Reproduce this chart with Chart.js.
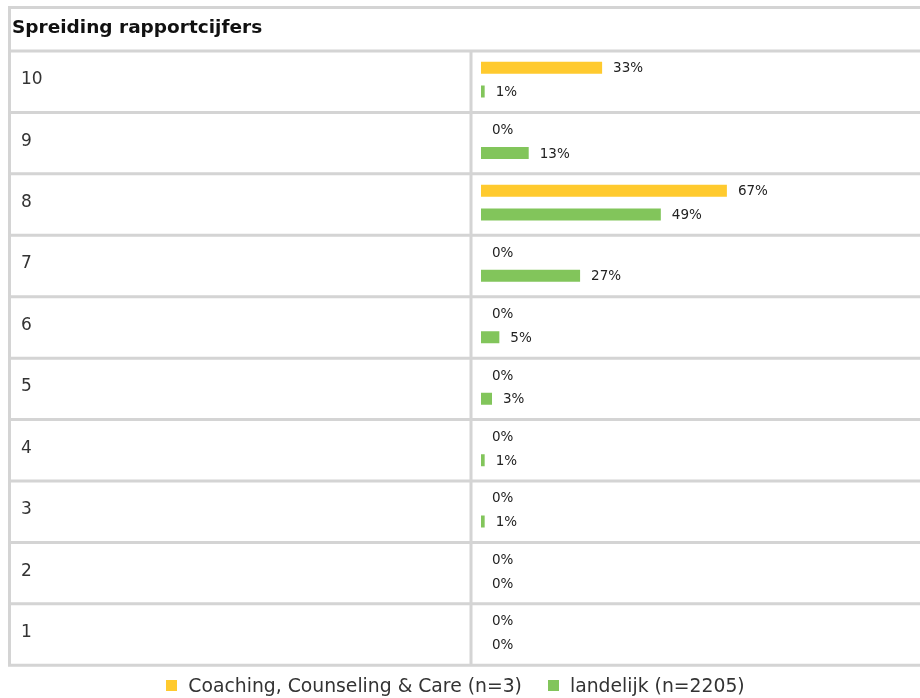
<!DOCTYPE html>
<html>
<head>
<meta charset="utf-8">
<script src="https://cdn.jsdelivr.net/npm/chart.js@4"></script>
<style>
  html, body { margin: 0; padding: 0; background: #fff; }
  body { width: 920px; height: 698px; position: relative; overflow: hidden; font-family: 'DejaVu Sans', Verdana, sans-serif; }
  #cijferChart { position: absolute; left: 0; top: 0; }
  #kop { position: absolute; left: 12px; top: 16px; font-weight: bold; font-size: 18.5px; color: #111; }
  #legend { position: absolute; left: 0; top: 675px; width: 911px; text-align: center; font-size: 18.8px; color: #333; white-space: nowrap; }
  #legend .item { display: inline-block; margin: 0 13px; }
  #legend .box { display: inline-block; width: 11px; height: 11px; margin-right: 11px; vertical-align: 1px; }
</style>
</head>
<body>
<canvas id="cijferChart" width="920" height="698"></canvas>
<div id="kop">Spreiding rapportcijfers</div>
<div id="legend"></div>

<script>
const cijfers = ['10', '9', '8', '7', '6', '5', '4', '3', '2', '1'];
const coaching = [33, 0, 67, 0, 0, 0, 0, 0, 0, 0];
const landelijk = [1, 13, 49, 27, 5, 3, 1, 1, 0, 0];
const seriesNames = ['Coaching, Counseling & Care (n=3)', 'landelijk (n=2205)'];
const seriesColors = ['#ffca2e', '#82c55b'];

const LINE_COLOR = '#d4d4d4';
const ROW_SHIFT = 2;

// table borders drawn from the category scale
const tableLines = {
    id: 'tableLines',
    beforeDatasetsDraw(chart) {
        const ctx = chart.ctx;
        const y = chart.scales.y;
        const half = (y.getPixelForValue(1) - y.getPixelForValue(0)) / 2;
        const top = y.getPixelForValue(0) - half + ROW_SHIFT;
        const bottom = y.getPixelForValue(cijfers.length - 1) + half + ROW_SHIFT;
        ctx.save();
        ctx.strokeStyle = LINE_COLOR;
        ctx.lineWidth = 3;
        ctx.beginPath();
        ctx.moveTo(8, 7.5);
        ctx.lineTo(chart.width, 7.5);
        for (let i = 0; i <= cijfers.length; i++) {
            const yy = y.getPixelForValue(i) - half + ROW_SHIFT;
            ctx.moveTo(8, yy);
            ctx.lineTo(chart.width, yy);
        }
        ctx.moveTo(9.5, 6);
        ctx.lineTo(9.5, bottom + 1.5);
        ctx.moveTo(471, top);
        ctx.lineTo(471, bottom);
        ctx.stroke();
        ctx.restore();
    }
};

const valueLabels = {
    id: 'valueLabels',
    afterDatasetsDraw(chart) {
        const ctx = chart.ctx;
        ctx.save();
        ctx.font = '13.5px "DejaVu Sans", Verdana, sans-serif';
        ctx.fillStyle = '#222';
        ctx.textAlign = 'left';
        ctx.textBaseline = 'middle';
        chart.data.datasets.forEach((ds, di) => {
            chart.getDatasetMeta(di).data.forEach((bar, i) => {
                ctx.fillText(ds.data[i] + '%', bar.x + 11, bar.y + 1);
            });
        });
        ctx.restore();
    }
};

function buildLegend(chart) {
    const el = document.getElementById('legend');
    chart.data.datasets.forEach(ds => {
        const item = document.createElement('span');
        item.className = 'item';
        const box = document.createElement('span');
        box.className = 'box';
        box.style.background = ds.backgroundColor;
        item.appendChild(box);
        item.appendChild(document.createTextNode(ds.label));
        el.appendChild(item);
    });
}

function generateCijferChart() {
    const ctx = document.getElementById('cijferChart').getContext('2d');
    const chart = new Chart(ctx, {
        type: 'bar',
        data: {
            labels: cijfers,
            datasets: [
                { label: seriesNames[0], data: coaching, backgroundColor: seriesColors[0] },
                { label: seriesNames[1], data: landelijk, backgroundColor: seriesColors[1] }
            ]
        },
        options: {
            indexAxis: 'y',
            responsive: false,
            animation: false,
            devicePixelRatio: 1,
            datasets: {
                bar: { categoryPercentage: 0.772, barPercentage: 0.506, inflateAmount: 0, borderWidth: 0 }
            },
            layout: { padding: { left: 21, right: 72, top: 49, bottom: 34.7 } },
            scales: {
                x: { display: false, min: 0, max: 100 },
                y: {
                    grid: { display: false },
                    border: { display: false },
                    ticks: {
                        crossAlign: 'far',
                        color: '#333',
                        font: { family: '"DejaVu Sans", Verdana, sans-serif', size: 17, lineHeight: 1.4 }
                    },
                    afterFit(scale) { scale.width = 460; }
                }
            },
            plugins: {
                legend: { display: false },
                tooltip: { enabled: false }
            }
        },
        plugins: [tableLines, valueLabels]
    });
    buildLegend(chart);
}

document.addEventListener('DOMContentLoaded', () => {
    generateCijferChart();
});
</script>
</body>
</html>
